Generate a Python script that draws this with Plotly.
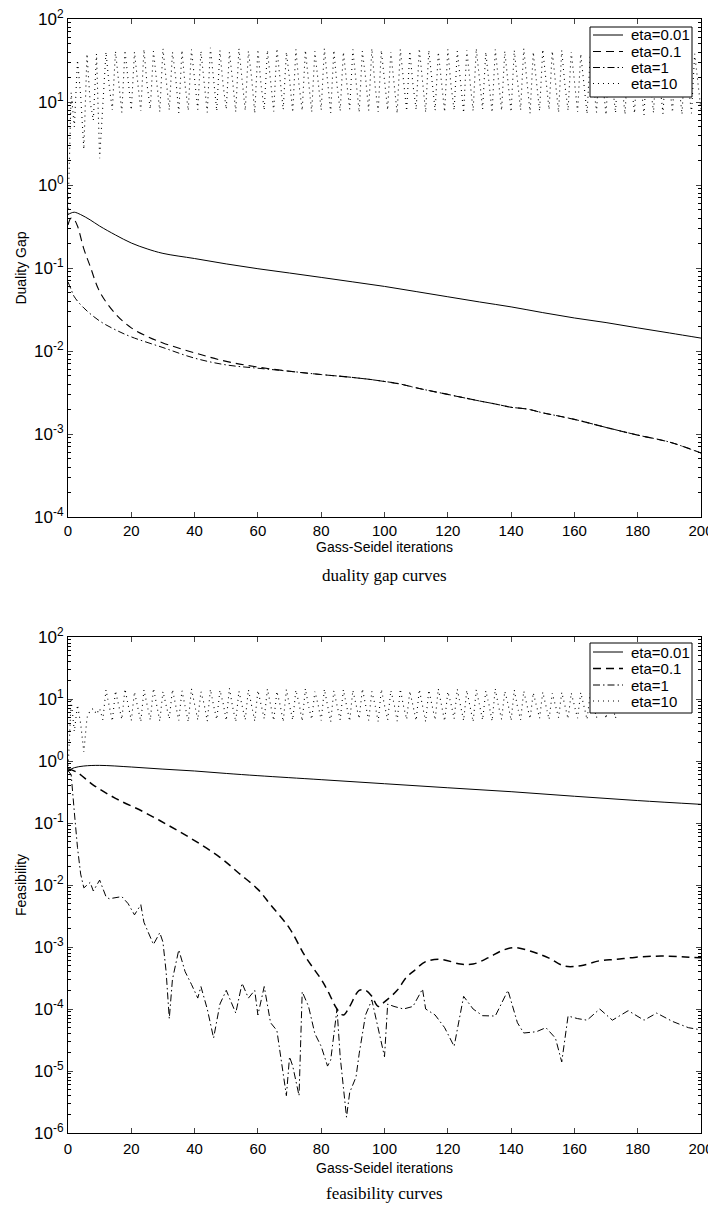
import plotly.graph_objects as go

# ---------------- data: duality gap ----------------
gap_x_001 = [0, 1, 2, 4, 7, 10, 15, 20, 25, 30, 40, 50, 60, 70, 80, 90, 100, 110, 120, 130, 140, 150, 160, 170, 180, 190, 200]
gap_y_001 = [0.44, 0.46, 0.47, 0.44, 0.38, 0.32, 0.25, 0.2, 0.17, 0.15, 0.13, 0.112, 0.098, 0.087, 0.077, 0.068, 0.06, 0.052, 0.045, 0.039, 0.034, 0.029, 0.025, 0.022, 0.019, 0.0165, 0.0143]

gap_x_01 = [0, 1, 2, 3, 5, 7, 10, 15, 20, 25, 30, 40, 50, 60, 70, 80, 90, 100, 105, 110, 120, 130, 135, 140, 145, 150, 160, 170, 180, 190, 200]
gap_y_01 = [0.33, 0.40, 0.38, 0.32, 0.17, 0.105, 0.052, 0.028, 0.019, 0.015, 0.0125, 0.0095, 0.0075, 0.0064, 0.0057, 0.0052, 0.0048, 0.0043, 0.0040, 0.0036, 0.0030, 0.0025, 0.0023, 0.0021, 0.0020, 0.0018, 0.0015, 0.0012, 0.00097, 0.00080, 0.00059]

gap_x_1 = [0, 1, 2, 5, 10, 15, 20, 30, 40, 50, 60, 70, 80, 90, 100, 105, 110, 120, 130, 135, 140, 145, 150, 160, 170, 180, 190, 200]
gap_y_1 = [0.068, 0.055, 0.045, 0.033, 0.023, 0.018, 0.0148, 0.011, 0.0082, 0.0068, 0.0062, 0.0057, 0.0052, 0.0048, 0.0043, 0.0040, 0.0036, 0.0030, 0.0025, 0.0023, 0.0021, 0.0020, 0.0018, 0.0015, 0.0012, 0.00097, 0.00080, 0.00059]

gap_y_10 = [
    0.45, 13, 5, 32, 12, 2.7, 38, 10, 6, 38, 2.1,
    9, 40, 16, 8, 41, 18, 7.5, 42, 17, 8, 40, 19, 7.8, 43, 16, 8.2, 41, 18,
    7.6, 44, 17, 8, 40, 20, 7.4, 42, 16, 7.9, 43, 18, 8.1, 41, 17, 7.5, 45, 19,
    7.8, 42, 16, 8.2, 40, 18, 7.6, 44, 17, 7.9, 41, 20, 7.3, 43, 16, 8, 42, 18,
    7.7, 44, 17, 8.1, 40, 19, 7.5, 43, 16, 7.9, 42, 18, 7.6, 41, 17, 8, 44, 19,
    7.4, 42, 16, 7.8, 40, 18, 8.2, 43, 17, 7.5, 41, 20, 7.9, 44, 16, 7.6, 42, 18,
    8, 40, 17, 7.3, 43, 19, 7.8, 41, 16, 8.1, 44, 18, 7.5, 42, 17, 7.9, 40, 19,
    7.6, 43, 16, 8, 41, 18, 7.4, 42, 17, 7.8, 44, 20, 8.2, 40, 16, 7.5, 43, 18,
    7.9, 41, 17, 7.6, 42, 19, 8, 44, 16, 7.3, 40, 18, 7.8, 43, 17, 8.1, 41, 19,
    7.5, 42, 16, 7.9, 40, 18, 7.6, 38, 17, 7.2, 37, 16, 7.5, 39, 18, 7.0, 36, 15,
    7.4, 38, 17, 7.1, 37, 16, 7.3, 39, 18, 7.0, 36, 15, 7.4, 38, 17, 7.2, 37, 16,
    7.5, 39, 18, 7.1, 36, 15, 7.3, 38, 17,
    8]
iters = list(range(len(gap_y_10)))

# ---------------- data: feasibility ----------------
fea_x_001 = [0, 2, 5, 10, 20, 30, 40, 50, 60, 80, 100, 120, 140, 160, 180, 200]
fea_y_001 = [0.70, 0.78, 0.83, 0.85, 0.80, 0.74, 0.69, 0.63, 0.58, 0.50, 0.43, 0.37, 0.32, 0.27, 0.23, 0.20]

fea_x_01 = [0, 3, 8, 15, 24, 32, 40, 48, 54, 60, 64, 70, 75, 80, 82, 85, 87, 89, 92, 94, 96, 98, 100, 104, 107, 109, 113, 118, 124, 128, 133, 137, 141, 147, 152, 157, 162, 168, 173, 179, 185, 190, 195, 200]
fea_y_01 = [0.75, 0.65, 0.41, 0.25, 0.15, 0.09, 0.052, 0.028, 0.0155, 0.0085, 0.0048, 0.002, 0.0007, 0.0003, 0.0002, 0.0001, 0.00008, 0.00011, 0.0002, 0.0002, 0.00016, 0.00011, 0.00013, 0.0002, 0.00033, 0.0004, 0.00058, 0.00063, 0.00053, 0.00053, 0.00068, 0.00087, 0.00098, 0.00083, 0.00066, 0.00049, 0.0005, 0.0006, 0.00063, 0.00068, 0.00071, 0.00071, 0.00069, 0.00067]

fea_x_1 = [0, 1, 2, 3, 4, 5, 7, 8, 10, 12, 13, 15, 17, 19, 21, 23, 24, 27, 29, 30, 31, 32, 33, 35, 37, 39, 41, 42, 44, 46, 48, 50, 51, 53, 55, 57, 59, 60, 62, 64, 66, 67, 69, 70, 71, 73, 74, 76, 78, 80, 82, 83, 85, 86, 88, 89, 91, 92, 94, 96, 98, 100, 101, 103, 106, 109, 112, 113, 116, 119, 122, 125, 128, 131, 135, 139, 142, 144, 148, 151, 154, 156, 158, 161, 164, 168, 172, 177, 182, 186, 191, 196, 200]
fea_y_1 = [0.7, 0.6, 0.15, 0.04, 0.015, 0.009, 0.011, 0.008, 0.012, 0.0065, 0.006, 0.0063, 0.0065, 0.005, 0.0033, 0.0048, 0.0025, 0.0011, 0.0017, 0.0012, 0.0004, 0.00007, 0.0003, 0.0009, 0.0004, 0.00025, 0.00015, 0.00023, 0.0001, 0.000034, 0.00012, 0.0002, 0.00015, 0.000086, 0.00026, 0.00015, 0.0002, 0.00008, 0.00023, 0.00006, 0.000045, 0.00002, 0.000004, 0.000017, 0.000012, 0.000004, 0.00019, 0.00011, 0.00004, 0.000025, 0.000012, 0.000015, 0.0001, 0.000017, 0.0000018, 0.0000045, 0.000008, 0.000019, 0.00008, 0.00014, 0.00005, 0.000017, 0.00012, 0.00011, 0.0001, 0.00011, 0.00021, 0.0001, 0.00008, 0.00005, 0.000025, 0.00016, 0.0001, 0.000078, 0.000077, 0.0002, 0.00006, 0.000041, 0.000043, 0.00005, 0.000034, 0.000014, 0.000077, 0.00007, 0.000066, 0.0001, 0.000066, 0.000094, 0.000066, 0.000086, 0.000063, 0.00005, 0.000046]

fea_y_10 = [
    0.7, 9.5, 3, 8, 4, 1.4, 5, 6.5, 7, 5.7, 7,
    4.6, 14, 8, 4.4, 13.5, 7.5, 4.7, 14.5, 8.5, 4.5, 13, 7.8, 4.3, 14, 8.2,
    4.6, 14.8, 7.6, 4.4, 13.2, 8.4, 4.8, 14.2, 7.9, 4.5, 13.6, 8.1, 4.3, 14.6, 7.7,
    4.6, 13.1, 8.3, 4.4, 14.3, 7.8, 4.7, 13.8, 8.6, 4.5, 14.9, 7.5, 4.3, 13.4, 8.2,
    4.6, 14.1, 7.9, 4.4, 13.7, 8.4, 4.8, 14.5, 7.6, 4.5, 13.3, 8.1, 4.3, 14.2, 7.8,
    4.6, 13.9, 8.5, 4.4, 14.7, 7.7, 4.7, 13.2, 8.2, 4.5, 14.4, 7.9, 4.3, 13.6, 8.3,
    4.6, 14.1, 7.6, 4.4, 13.8, 8.4, 4.8, 14.6, 7.8, 4.5, 13.3, 8.1, 4.3, 14.3, 7.9,
    4.6, 13.7, 8.5, 4.4, 14.5, 7.7, 4.7, 13.4, 8.2, 4.5, 14.2, 7.8, 4.3, 13.9, 8.3,
    4.6, 14.6, 7.6, 4.4, 13.1, 8.4, 4.8, 14.4, 7.9, 4.5, 13.8, 8.1, 4.3, 14.1, 7.7,
    4.6, 13.5, 8.2, 4.4, 14.7, 7.8, 4.7, 13.3, 8.5, 4.5, 14.0, 7.6, 4.6, 13.4, 8.0,
    4.8, 12.6, 7.6, 4.9, 12.9, 7.9, 4.7, 12.4, 7.5, 5.0, 12.8, 7.8, 4.8, 12.5, 7.6,
    4.9, 12.7, 7.9, 4.7, 12.3, 7.5, 5.0, 12.8, 7.7, 4.8, 12.5, 7.6, 4.9, 12.6, 7.8,
    6]

series_names = ["eta=0.01", "eta=0.1", "eta=1", "eta=10"]

# ---------------- styles ----------------
BLACK = "#000000"
styles = {
    "eta=0.01": dict(color=BLACK, width=1, dash="solid"),
    "eta=0.1": dict(color=BLACK, width=1.1, dash="8px,5px"),
    "eta=1": dict(color=BLACK, width=1, dash="7px,3px,1.5px,3px"),
    "eta=10": dict(color=BLACK, width=1.1, dash="1px,4px"),
}
styles_bot = dict(styles)
styles_bot["eta=0.1"] = dict(color=BLACK, width=1.5, dash="8px,5px")

fig = go.Figure()

def add(x, y, name, yaxis, st, shape="linear"):
    fig.add_trace(go.Scatter(
        x=x, y=y, mode="lines", name=name, line=dict(shape=shape, **st),
        xaxis="x" if yaxis == "y" else "x2", yaxis=yaxis, showlegend=False,
    ))

add(gap_x_001, gap_y_001, "eta=0.01", "y", styles["eta=0.01"], "spline")
add(gap_x_01, gap_y_01, "eta=0.1", "y", styles["eta=0.1"], "spline")
add(gap_x_1, gap_y_1, "eta=1", "y", styles["eta=1"], "spline")
add(iters, gap_y_10, "eta=10", "y", styles["eta=10"])

add(fea_x_001, fea_y_001, "eta=0.01", "y2", styles_bot["eta=0.01"], "spline")
add(fea_x_01, fea_y_01, "eta=0.1", "y2", styles_bot["eta=0.1"], "spline")
add(fea_x_1, fea_y_1, "eta=1", "y2", styles_bot["eta=1"])
add(iters, fea_y_10, "eta=10", "y2", styles_bot["eta=10"])

FONT = "Liberation Sans, Arial, sans-serif"
SERIF = "Liberation Serif, Times New Roman, serif"

x_ticks = [0, 20, 40, 60, 80, 100, 120, 140, 160, 180, 200]

def xaxis_def(anchor, standoff, label_gap):
    return dict(
        range=[0, 200], tickvals=x_ticks, ticks="inside", ticklen=5,
        showline=True, linecolor=BLACK, linewidth=1, mirror="allticks",
        showgrid=False, zeroline=False, anchor=anchor, ticklabeloverflow="allow",
        ticklabelstandoff=label_gap,
        tickfont=dict(family=FONT, size=15, color=BLACK),
        title=dict(text="Gass-Seidel iterations", font=dict(family=FONT, size=14, color=BLACK), standoff=standoff),
    )

def yaxis_def(lo, hi, title, domain):
    vals = [10 ** k for k in range(lo, hi + 1)]
    txt = ["10<sup>%d</sup>" % k for k in range(lo, hi + 1)]
    return dict(
        type="log", range=[lo, hi], tickvals=vals, ticktext=txt,
        ticks="inside", ticklen=5, ticklabeloverflow="allow",
        minor=dict(ticks="inside", ticklen=3, dtick="D1", tickcolor=BLACK, showgrid=False),
        showline=True, linecolor=BLACK, linewidth=1, mirror="allticks",
        showgrid=False, zeroline=False, domain=domain,
        tickfont=dict(family=FONT, size=17, color=BLACK),
        title=dict(text=title, font=dict(family=FONT, size=14, color=BLACK), standoff=4),
    )

# page-pixel -> paper helpers (page has an 8px body offset; plot area spans x 68..701, y 19..1133)
def PX(xp):
    return (xp - 68) / 633.0

def PY(yp):
    return 1 - (yp - 19) / 1114.0

shapes = []
annotations = []

def add_legend(box_top, row_ys, stl):
    shapes.append(dict(type="rect", xref="paper", yref="paper", layer="above",
                       x0=PX(590), x1=PX(692), y0=PY(box_top), y1=PY(box_top + 70),
                       line=dict(color=BLACK, width=1), fillcolor="white"))
    for name, ry in zip(series_names, row_ys):
        st = stl[name]
        shapes.append(dict(type="line", xref="paper", yref="paper", layer="above",
                           x0=PX(593), x1=PX(623), y0=PY(ry), y1=PY(ry),
                           line=dict(color=BLACK, width=st["width"], dash=st["dash"])))
        annotations.append(dict(text=name, xref="paper", yref="paper", x=PX(629), y=PY(ry),
                                xanchor="left", yanchor="middle", showarrow=False,
                                font=dict(family=FONT, size=15, color=BLACK)))

add_legend(27, [35, 51.5, 67.5, 83.5], styles)
add_legend(643, [652, 668.5, 685, 701], styles_bot)

annotations += [
    dict(text="duality gap curves", xref="paper", yref="paper", x=0.5, y=PY(575),
         xanchor="center", yanchor="middle",
         showarrow=False, font=dict(family=SERIF, size=17, color=BLACK)),
    dict(text="feasibility curves", xref="paper", yref="paper", x=0.5, y=PY(1193),
         xanchor="center", yanchor="middle",
         showarrow=False, font=dict(family=SERIF, size=17, color=BLACK)),
]

fig.update_layout(
    width=708, height=1201,
    margin=dict(l=60, r=15, t=11, b=76, autoexpand=False),
    paper_bgcolor="white", plot_bgcolor="white",
    xaxis=dict(domain=[0, 1], **xaxis_def("y", 4, 0)),
    xaxis2=dict(domain=[0, 1], **xaxis_def("y2", 7, 2)),
    yaxis=yaxis_def(-4, 2, "Duality Gap", [PY(517), 1.0]),
    yaxis2=yaxis_def(-6, 2, "Feasibility", [0.0, PY(637)]),
    showlegend=False,
    shapes=shapes,
    annotations=annotations,
)

fig.write_html("out.html")
